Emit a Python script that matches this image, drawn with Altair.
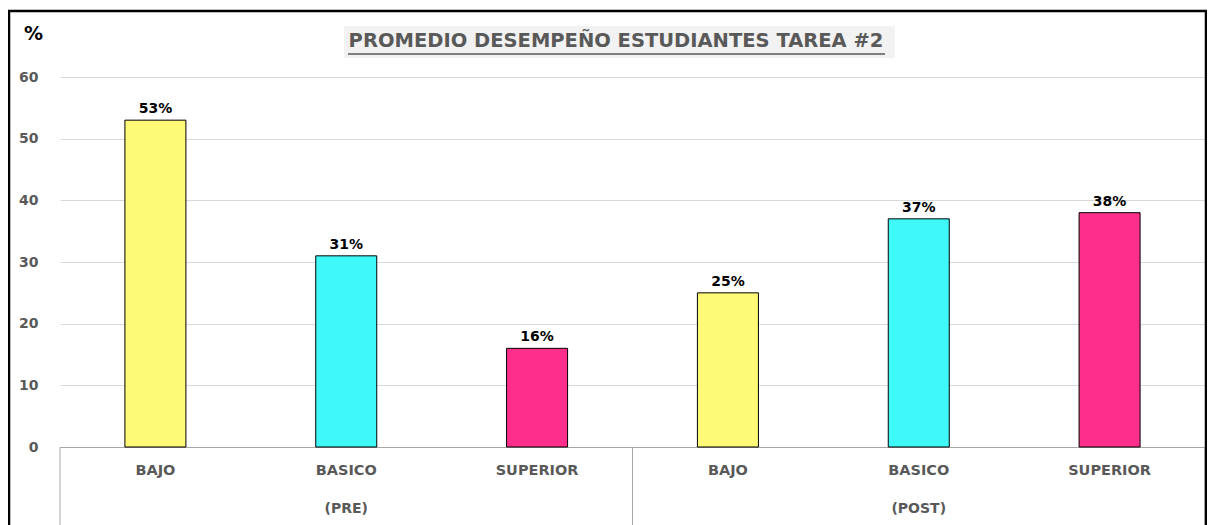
import altair as alt
import pandas as pd

# ---- data ----
groups = ["PRE", "PRE", "PRE", "POST", "POST", "POST"]
levels = ["BAJO", "BASICO", "SUPERIOR", "BAJO", "BASICO", "SUPERIOR"]
values = [53, 31, 16, 25, 37, 38]
bar_colors = ["#FFF978", "#3FF9F9", "#FF2D8C", "#FFF978", "#3FF9F9", "#FF2D8C"]
group_labels = ["(PRE)", "(POST)"]
group_mid_levels = ["BASICO", "BASICO"]
title_text = "PROMEDIO DESEMPEÑO ESTUDIANTES TAREA #2"

keys = [f"{g}|{l}" for g, l in zip(groups, levels)]
df = pd.DataFrame({
    "key": keys,
    "value": values,
    "label": [f"{v}%" for v in values],
    "color": bar_colors,
})
grp_df = pd.DataFrame({
    "key": [f"{g}|{l}" for g, l in zip(["PRE", "POST"], group_mid_levels)],
    "glabel": group_labels,
})
left_edges = pd.DataFrame({"key": [keys[0], keys[3]]})
right_edges = pd.DataFrame({"key": [keys[5]]})

FONT = "DejaVu Sans"
GRAY = "#595959"
W, H = 1145, 370

xenc = alt.X(
    "key:N",
    sort=keys,
    scale=alt.Scale(paddingInner=0, paddingOuter=0),
    axis=alt.Axis(
        title=None,
        labelExpr="split(datum.label, '|')[1]",
        labelFont=FONT, labelFontSize=14.5, labelFontWeight="bold",
        labelColor=GRAY, labelPadding=23, labelBaseline="middle",
        ticks=False, domain=True, domainColor="#a6a6a6", domainWidth=1,
        labelAngle=0,
    ),
)
yenc = alt.Y(
    "value:Q",
    scale=alt.Scale(domain=[0, 60]),
    axis=alt.Axis(
        values=[0, 10, 20, 30, 40, 50, 60],
        title="%", titleAngle=0, titleX=-27, titleY=-44,
        titleAlign="center", titleBaseline="middle",
        titleFont=FONT, titleFontSize=19, titleFontWeight="bold", titleColor="black",
        labelFont=FONT, labelFontSize=14, labelFontWeight="bold", labelColor=GRAY,
        labelPadding=22, ticks=False, domain=False,
        gridColor="#d9d9d9", gridWidth=1,
    ),
)

base = alt.Chart(df)

bars = base.mark_bar(size=61, stroke="black", strokeWidth=1).encode(
    x=xenc, y=yenc, fill=alt.Color("color:N", scale=None)
)
bar_labels = base.mark_text(
    dy=-4, baseline="bottom", font=FONT, fontSize=14, fontWeight="bold", color="black"
).encode(x=alt.X("key:N", sort=keys), y="value:Q", text="label:N")

group_text = alt.Chart(grp_df).mark_text(
    font=FONT, fontSize=14, fontWeight="bold", color=GRAY, baseline="middle"
).encode(x=alt.X("key:N", sort=keys), y=alt.value(H + 62), text="glabel:N")

sep_left = alt.Chart(left_edges).mark_rule(color="#a6a6a6", strokeWidth=1).encode(
    x=alt.X("key:N", sort=keys, bandPosition=0), y=alt.value(H), y2=alt.value(H + 90)
)
sep_right = alt.Chart(right_edges).mark_rule(color="#a6a6a6", strokeWidth=1).encode(
    x=alt.X("key:N", sort=keys, bandPosition=1), y=alt.value(H), y2=alt.value(H + 90)
)

deco = pd.DataFrame({"t": [title_text]})
border = alt.Chart(deco).mark_rect(filled=False, stroke="black", strokeWidth=2.5).encode(
    x=alt.value(-51), x2=alt.value(W + 1), y=alt.value(-66), y2=alt.value(H + 200)
)
title_bg = alt.Chart(deco).mark_rect(fill="#f2f2f2").encode(
    x=alt.value(284), x2=alt.value(835), y=alt.value(-51), y2=alt.value(-19)
)
title = alt.Chart(deco).mark_text(
    font=FONT, fontSize=19.5, fontWeight="bold", color=GRAY, baseline="middle", align="center"
).encode(x=alt.value(556), y=alt.value(-36), text="t:N")
underline = alt.Chart(deco).mark_rule(color=GRAY, strokeWidth=1.5).encode(
    x=alt.value(288), x2=alt.value(825), y=alt.value(-23)
)

chart = alt.layer(
    title_bg, bars, bar_labels, group_text, sep_left, sep_right, title, underline, border
).properties(
    width=W, height=H,
    autosize=alt.AutoSizeParams(type="none"),
    padding={"left": 52, "top": 69, "right": 2, "bottom": 78},
).configure_view(stroke=None)

chart.save("out.html", embed_options={"renderer": "svg", "actions": False})
